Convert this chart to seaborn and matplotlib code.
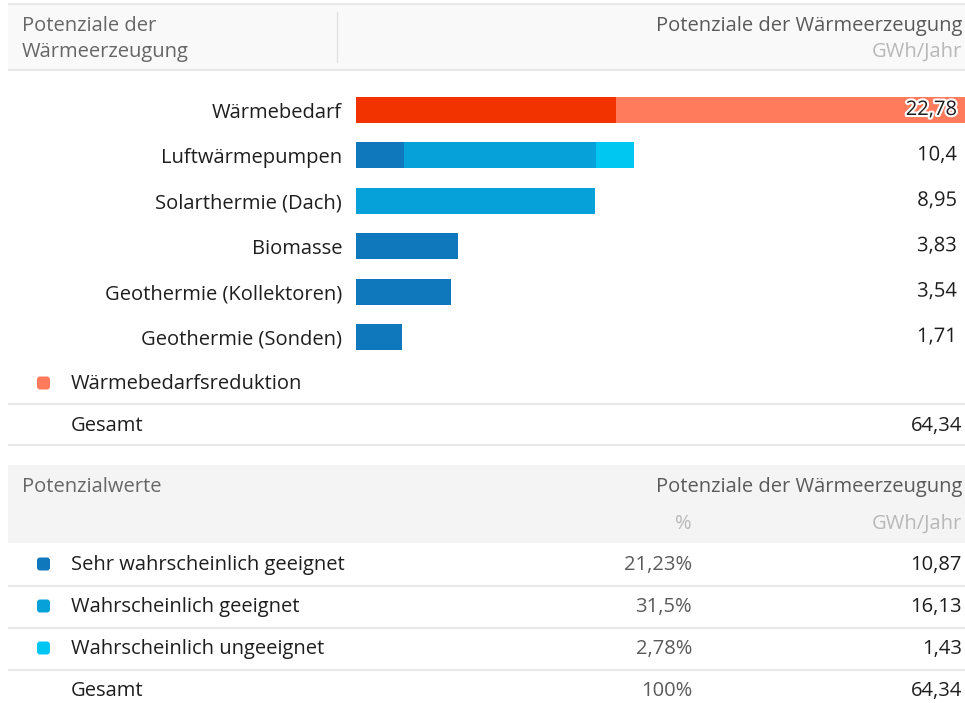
import matplotlib
matplotlib.use("Agg")
import matplotlib.pyplot as plt
import matplotlib.patheffects as pe
import matplotlib.transforms as mtrans
from matplotlib.patches import Rectangle, FancyBboxPatch
import pandas as pd
import seaborn as sns

# ---------------------------------------------------------------- data
sources = [
    "Wärmebedarf",
    "Luftwärmepumpen",
    "Solarthermie (Dach)",
    "Biomasse",
    "Geothermie (Kollektoren)",
    "Geothermie (Sonden)",
]
totals = [22.78, 10.4, 8.95, 3.83, 3.54, 1.71]

# stacked segments per source (GWh/Jahr)
bedarf = [9.73, 0, 0, 0, 0, 0]
reduktion = [13.05, 0, 0, 0, 0, 0]
sehr_geeignet = [0, 1.79, 0, 3.83, 3.54, 1.71]
geeignet = [0, 7.18, 8.95, 0, 0, 0]
ungeeignet = [0, 1.43, 0, 0, 0, 0]

gesamt_oben = "64,34"

klassen = ["Sehr wahrscheinlich geeignet", "Wahrscheinlich geeignet",
           "Wahrscheinlich ungeeignet"]
klassen_prozent = ["21,23%", "31,5%", "2,78%"]
klassen_gwh = [10.87, 16.13, 1.43]
gesamt_prozent = "100%"
gesamt_gwh = 64.34

# ---------------------------------------------------------------- style
RED = "#F23300"
SALMON = "#FF7B5C"
BLUE_DARK = "#0F78BC"
BLUE_MID = "#07A1D9"
BLUE_LIGHT = "#00C7F2"
TXT = "#1E1E1E"
TXT_HEAD = "#666666"
TXT_PCT = "#5A5A5A"
TXT_UNIT = "#B8B8B8"
RULE = "#E8E8E8"

sns.set_theme(style="white")
plt.rcParams["font.family"] = ["Open Sans", "DejaVu Sans"]
FS = 14.5

W, H = 965, 703
fig = plt.figure(figsize=(W / 100, H / 100), dpi=100)
fig.patch.set_facecolor("white")


def fmt(v):
    return f"{v:g}".replace(".", ",")


# background canvas in pixel coordinates
bg = fig.add_axes([0, 0, 1, 1], zorder=0)
bg.set_xlim(0, W)
bg.set_ylim(H, 0)
bg.axis("off")


def hline(y):
    bg.plot([8, W], [y, y], color=RULE, lw=1.5, solid_capstyle="butt")


def txt(x, y, s, ha="left", color=TXT, **kw):
    bg.text(x, y, s, ha=ha, va="center", color=color, fontsize=FS, **kw)


def square(y, color):
    bg.add_patch(FancyBboxPatch((37, y - 6.5), 13, 13,
                                boxstyle="round,pad=0,rounding_size=3",
                                fc=color, ec="none"))


# header of the chart block
bg.add_patch(Rectangle((8, 5), W - 8, 64, fc="#F9F9F9", ec="none"))
hline(4)
hline(69.5)
bg.plot([337, 337], [12, 62], color="#E2E2E2", lw=1)
txt(22, 26, "Potenziale der", color=TXT_HEAD)
txt(22, 52, "Wärmeerzeugung", color=TXT_HEAD)
txt(962, 26, "Potenziale der Wärmeerzeugung", ha="right", color=TXT_PCT)
txt(962, 52, "GWh/Jahr", ha="right", color=TXT_UNIT)

# legend row and total of the chart block
square(383, SALMON)
txt(71, 384, "Wärmebedarfsreduktion")
hline(403.5)
txt(71, 426, "Gesamt")
txt(962, 426, gesamt_oben, ha="right")
hline(444.5)

# table of potential classes
bg.add_patch(Rectangle((8, 465), W - 8, 78, fc="#F4F4F4", ec="none"))
txt(22, 487, "Potenzialwerte", color=TXT_HEAD)
txt(962, 487, "Potenziale der Wärmeerzeugung", ha="right", color=TXT_PCT)
txt(692, 524, "%", ha="right", color=TXT_UNIT)
txt(962, 524, "GWh/Jahr", ha="right", color=TXT_UNIT)

row_y = [564, 606, 648]
for y, name, pct, val, col in zip(row_y, klassen, klassen_prozent, klassen_gwh,
                                  [BLUE_DARK, BLUE_MID, BLUE_LIGHT]):
    square(y, col)
    txt(71, y + 1, name)
    txt(692, y + 1, pct, ha="right", color=TXT_PCT)
    txt(962, y + 1, fmt(val), ha="right")
    hline(y + 21.5)
txt(71, 691, "Gesamt")
txt(692, 691, gesamt_prozent, ha="right", color=TXT_PCT)
txt(962, 691, fmt(gesamt_gwh), ha="right")

# ---------------------------------------------------------------- bars
x0, x1 = 356, W
yc0, yc5 = 110, 337
step = (yc5 - yc0) / 5
ytop = yc0 - 0.5 * step
ybot = yc5 + 0.5 * step
ax = fig.add_axes([x0 / W, 1 - ybot / H, (x1 - x0) / W, (ybot - ytop) / H],
                  zorder=2)
ax.patch.set_alpha(0)

segments = [
    ("Bedarf", bedarf, RED),
    ("Reduktion", reduktion, SALMON),
    ("Sehr wahrscheinlich geeignet", sehr_geeignet, BLUE_DARK),
    ("Wahrscheinlich geeignet", geeignet, BLUE_MID),
    ("Wahrscheinlich ungeeignet", ungeeignet, BLUE_LIGHT),
]
cum = [0.0] * len(sources)
layers = []
for name, vals, col in segments:
    cum = [c + v for c, v in zip(cum, vals)]
    df = pd.DataFrame({"source": sources, "end": cum, "seg": vals})
    layers.append((df[df["seg"] > 0], col))

# stack by painting the cumulative ends from the outermost segment inwards
for df, col in reversed(layers):
    sns.barplot(data=df, x="end", y="source", order=sources, orient="h",
                color=col, saturation=1, width=0.57, errorbar=None,
                linewidth=0, ax=ax)

ax.set_xlim(0, max(totals))
ax.set_ylim(5.5, -0.5)
ax.set_xlabel("")
ax.set_ylabel("")
ax.set_xticks([])
ax.set_yticks(range(len(sources)))
ax.set_yticklabels(sources, fontsize=FS, color=TXT)
ax.tick_params(axis="y", length=0, pad=10)
for s in ax.spines.values():
    s.set_visible(False)

trans = mtrans.blended_transform_factory(ax.transAxes, ax.transData)
xr = (957 - x0) / (x1 - x0)
for i, v in enumerate(totals):
    ax.text(xr, i, fmt(v), transform=trans, ha="right", va="center",
            fontsize=FS, color=TXT,
            path_effects=[pe.withStroke(linewidth=3, foreground="white")])

fig.savefig("out.png", dpi=100, facecolor="white")
